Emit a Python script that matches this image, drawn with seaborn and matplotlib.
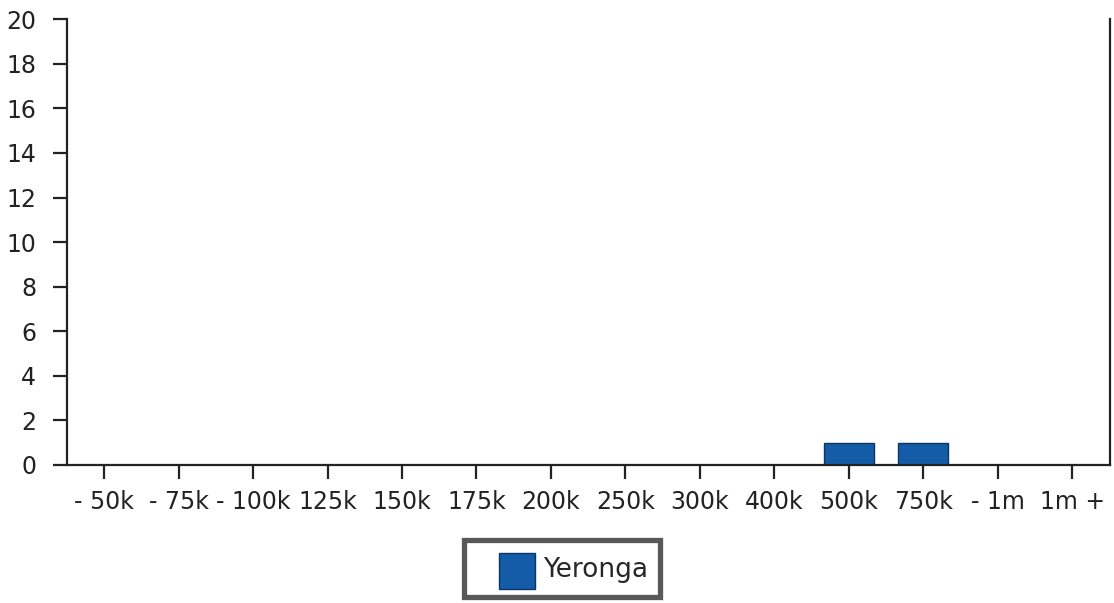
import pandas as pd
import seaborn as sns
import matplotlib.pyplot as plt
from matplotlib.patches import Rectangle
from matplotlib.legend_handler import HandlerPatch

# Rangos de precio y cantidad de ventas
categorias = ['- 50k', '- 75k', '- 100k', '125k', '150k', '175k', '200k',
              '250k', '300k', '400k', '500k', '750k', '- 1m', '1m +']
valores = [0, 0, 0, 0, 0, 0, 0, 0, 0, 0, 1, 1, 0, 0]
suburbio = 'Yeronga'
color_barra = '#155ca8'

df = pd.DataFrame({'rango': categorias, 'ventas': valores, 'suburbio': suburbio})

sns.set_style('white')
plt.rcParams['font.family'] = ['DejaVu Sans']

fig = plt.figure(figsize=(11.14, 6.03), dpi=100)
ax = fig.add_axes([0.060, 0.229, 0.936, 0.739])

sns.barplot(data=df, x='rango', y='ventas', hue='suburbio',
            palette=[color_barra], saturation=1, width=0.67,
            edgecolor='#0c3565', linewidth=1.0, ax=ax)

ax.set_xlim(-0.5, len(categorias) - 0.5)
ax.set_ylim(0, 20)
ax.set_yticks(range(0, 21, 2))
ax.set_xlabel('')
ax.set_ylabel('')

for lado in ['left', 'bottom', 'right']:
    ax.spines[lado].set_visible(True)
    ax.spines[lado].set_color('#222222')
    ax.spines[lado].set_linewidth(1.6)
ax.spines['top'].set_visible(False)

ax.tick_params(axis='both', direction='out', length=10, width=1.6,
               color='#222222', labelsize=17, labelcolor='#222222')
ax.tick_params(axis='x', pad=8, bottom=True)
ax.tick_params(axis='y', pad=12, left=True)


# cuadrado de la leyenda pegado a la derecha del hueco del handle
def cuadrado(legend, orig_handle, xdescent, ydescent, width, height, fontsize):
    lado = height * 1.05
    return Rectangle((width - lado - xdescent, -ydescent - 0.1 * height), lado, lado)


handles, labels = ax.get_legend_handles_labels()
leg = ax.legend(handles, labels, loc='upper center',
                bbox_to_anchor=(0.4746, -0.168),
                fontsize=19, frameon=True, fancybox=False,
                handlelength=2.25, handleheight=1.6, handletextpad=0.3,
                borderpad=0.45, borderaxespad=0,
                handler_map={h: HandlerPatch(patch_func=cuadrado) for h in handles})
leg.get_frame().set_edgecolor('#2e2e2e')
leg.get_frame().set_linewidth(3.8)

plt.savefig('out.png', dpi=100)
